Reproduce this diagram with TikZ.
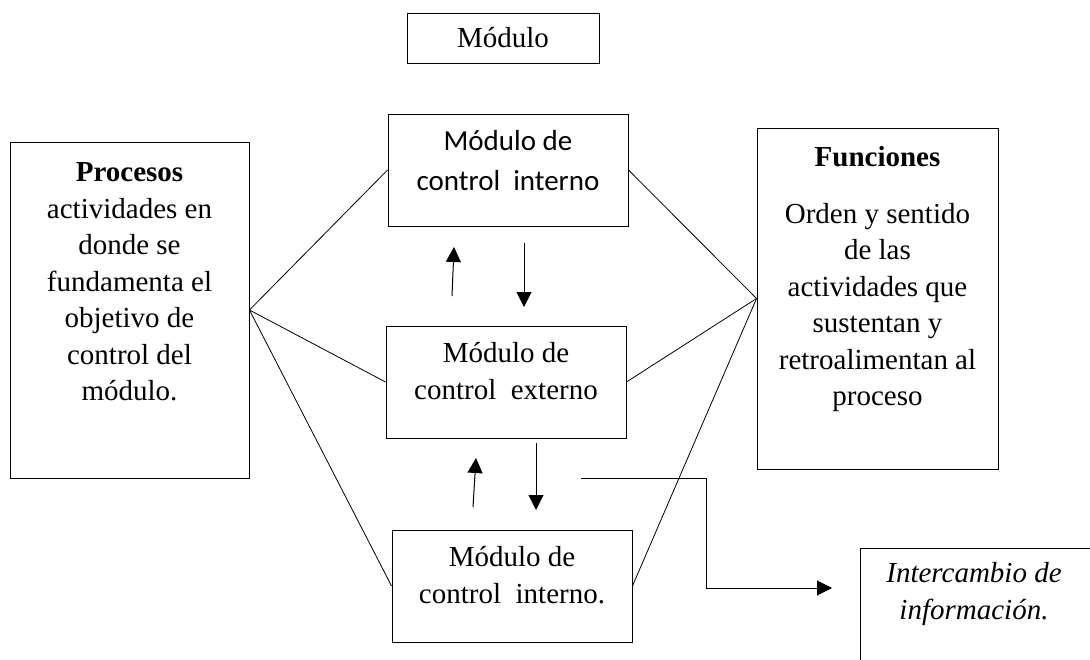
\documentclass[tikz,border=0pt]{standalone}
\usepackage{fontspec}
\setmainfont{Liberation Serif}
\newfontfamily\calibri{Carlito}
\usetikzlibrary{positioning}
\usetikzlibrary{arrows.meta}
\tikzset{
	>={Triangle[length=15pt,width=15pt]},
	caja/.style={
		rectangle,
		draw=black, line width=0.9pt,
		inner sep=0pt,
		minimum width=240pt,
		minimum height=112pt},
	texto/.style={
		align=center,
		inner sep=0pt,
		font=\fontsize{29}{36.5}\selectfont},
	linea/.style={draw, line width=0.8pt},
	flecha/.style={draw, line width=1pt, ->},
}

\begin{document}
\begin{tikzpicture}[x=1pt,y=-1pt]
	\useasboundingbox (0,0) rectangle (1090,659);
	\clip (0,0) rectangle (1090,659);
	% cajas
	\node[caja, texto, minimum width=192pt, minimum height=50pt] (modulo) at (503,38) {Módulo};
	\node[caja, minimum width=239pt, minimum height=336pt] (proc) at (129.5,310) {};
	\node[texto, below=21pt of proc.north] (proctxt) {\textbf{Procesos}\\actividades en\\donde se\\fundamenta el\\objetivo de\\control del\\módulo.};
	\node[caja] (cint) at (508,170) {};
	\node[texto, font=\calibri\fontsize{29}{40}\selectfont, below=17pt of cint.north] (cinttxt) {Módulo de\\control\ \ interno};
	\node[caja] (cext) at (506,382) {};
	\node[texto, below=17pt of cext.north] (cexttxt) {Módulo de\\control\ \ externo};
	\node[caja] (cint2) at (512,586) {};
	\node[texto, below=17pt of cint2.north] (cint2txt) {Módulo de\\control\ \ interno.};
	\node[caja, minimum width=241pt, minimum height=341pt] (func) at (877.5,298.5) {};
	\node[texto, below=19pt of func.north] (functxt) {\textbf{Funciones}\\[20pt]Orden y sentido\\de las\\actividades que\\sustentan y\\retroalimentan al\\proceso};
	\node[caja, anchor=north west, minimum width=260pt, minimum height=140pt] (inter) at (860,548) {};
	\node[texto, font=\itshape\fontsize{29}{37}\selectfont, below=14pt of inter.north west, xshift=114pt] (intertxt) {Intercambio de\\información.};

	% lineas
	\draw[linea] (proc.east) -- (cint.west);
	\draw[linea] (proc.east) -- (cext.west);
	\draw[linea] (proc.east) -- (cint2.west);
	\draw[linea] (func.west) -- (cint.east);
	\draw[linea] (func.west) -- (cext.east);
	\draw[linea] (func.west) -- (cint2.east);

	% flechas
	\coordinate (s1) at (452,296);
	\coordinate (s1t) at (454,247);
	\coordinate (b1) at (524,243);
	\coordinate (b1t) at (524,307);
	\coordinate (s2) at (473,507);
	\coordinate (s2t) at (476,458);
	\coordinate (b2) at (536,443);
	\coordinate (b2t) at (536,510);
	\coordinate (i1) at (581,478);
	\coordinate (i2) at (706,478);
	\coordinate (i3) at (832,588);
	\draw[flecha] (s1) -- (s1t);
	\draw[flecha] (b1) -- (b1t);
	\draw[flecha] (s2) -- (s2t);
	\draw[flecha] (b2) -- (b2t);
	\draw[flecha] (i1) -- (i2) |- (i3);
\end{tikzpicture}
\end{document}
